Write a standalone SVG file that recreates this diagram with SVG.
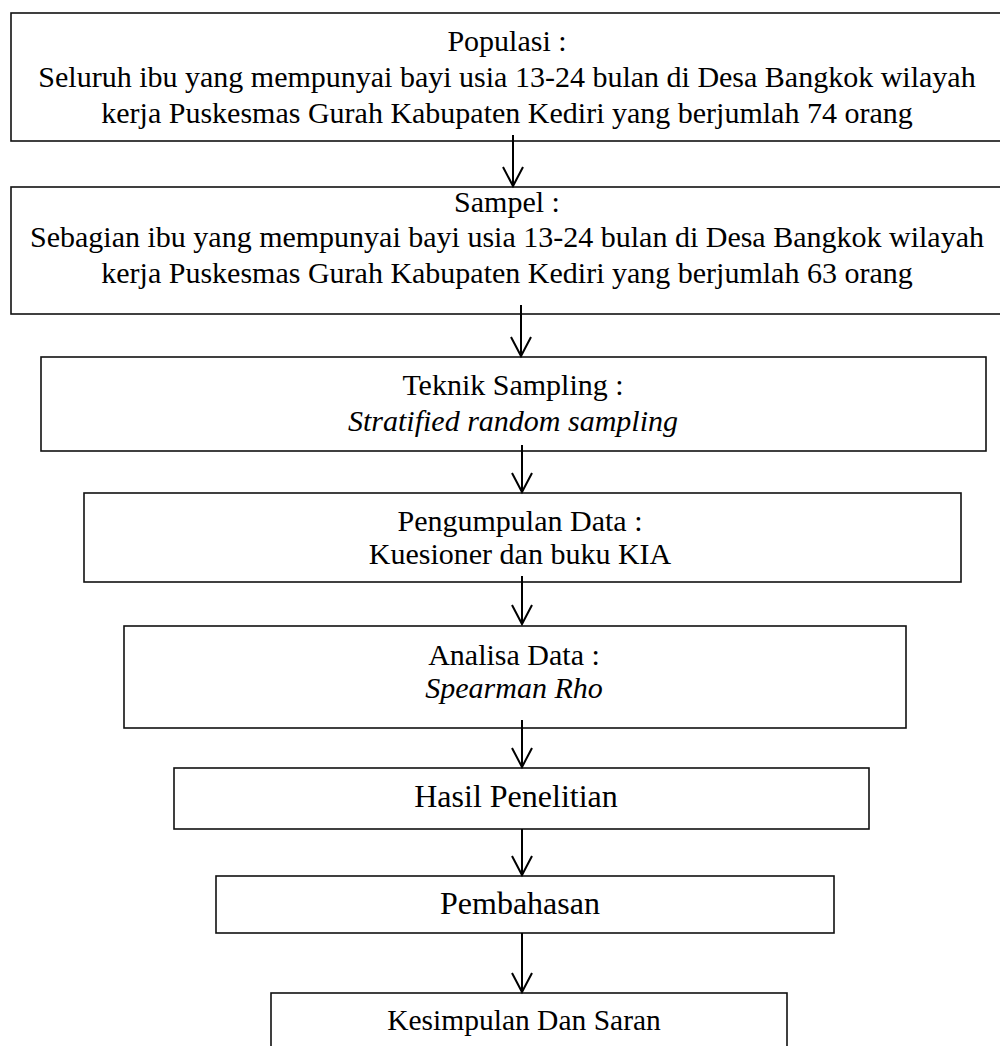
<svg xmlns="http://www.w3.org/2000/svg" width="1000" height="1046" viewBox="0 0 1000 1046">
<defs>
<marker id="ah" markerWidth="24" markerHeight="24" refX="21" refY="12" orient="auto" markerUnits="userSpaceOnUse" viewBox="0 0 24 24">
<path d="M2,2 L21,12 L2,22" fill="none" stroke="#000" stroke-width="2"/>
</marker>
</defs>
<style>
rect{fill:#fff;stroke:#111;stroke-width:1.6}
text{font-family:"Liberation Serif","Times New Roman",serif;font-size:30px;fill:#000;text-anchor:middle}
.it{font-style:italic}
.big{font-size:32px}
.sm{font-size:29.5px}
line{stroke:#000;stroke-width:2}
</style>
<g id="n1"><rect x="11" y="13" width="1000" height="128"/>
<text x="507" y="51">Populasi :</text>
<text x="507" y="87">Seluruh ibu yang mempunyai bayi usia 13-24 bulan di Desa Bangkok wilayah</text>
<text x="507" y="123">kerja Puskesmas Gurah Kabupaten Kediri yang berjumlah 74 orang</text></g>
<g id="n2"><rect x="11" y="187" width="1000" height="127"/>
<text x="507" y="212">Sampel :</text>
<text x="507" y="247">Sebagian ibu yang mempunyai bayi usia 13-24 bulan di Desa Bangkok wilayah</text>
<text x="507" y="283">kerja Puskesmas Gurah Kabupaten Kediri yang berjumlah 63 orang</text></g>
<g id="n3"><rect x="41" y="357" width="945" height="94"/>
<text x="513" y="395">Teknik Sampling :</text>
<text x="513" y="431" class="it">Stratified random sampling</text></g>
<g id="n4"><rect x="84" y="493" width="877" height="89"/>
<text x="520" y="531">Pengumpulan Data :</text>
<text x="520" y="564">Kuesioner dan buku KIA</text></g>
<g id="n5"><rect x="124" y="626" width="782" height="102"/>
<text x="514" y="665">Analisa Data :</text>
<text x="514" y="698" class="it">Spearman Rho</text></g>
<g id="n6"><rect x="174" y="768" width="695" height="61"/>
<text x="516" y="807" class="big">Hasil Penelitian</text></g>
<g id="n7"><rect x="216" y="876" width="618" height="57"/>
<text x="520" y="914" class="big">Pembahasan</text></g>
<g id="n8"><rect x="271" y="993" width="516" height="70"/>
<text x="524" y="1030" class="sm">Kesimpulan Dan Saran</text></g>
<g id="connectors">
<line x1="513" y1="135" x2="513" y2="186" marker-end="url(#ah)"/>
<line x1="521" y1="305" x2="521" y2="356" marker-end="url(#ah)"/>
<line x1="522" y1="445" x2="522" y2="492" marker-end="url(#ah)"/>
<line x1="522" y1="576" x2="522" y2="624" marker-end="url(#ah)"/>
<line x1="522" y1="720" x2="522" y2="767" marker-end="url(#ah)"/>
<line x1="522" y1="829" x2="522" y2="875" marker-end="url(#ah)"/>
<line x1="522" y1="933" x2="522" y2="992" marker-end="url(#ah)"/>
</g>
</svg>
